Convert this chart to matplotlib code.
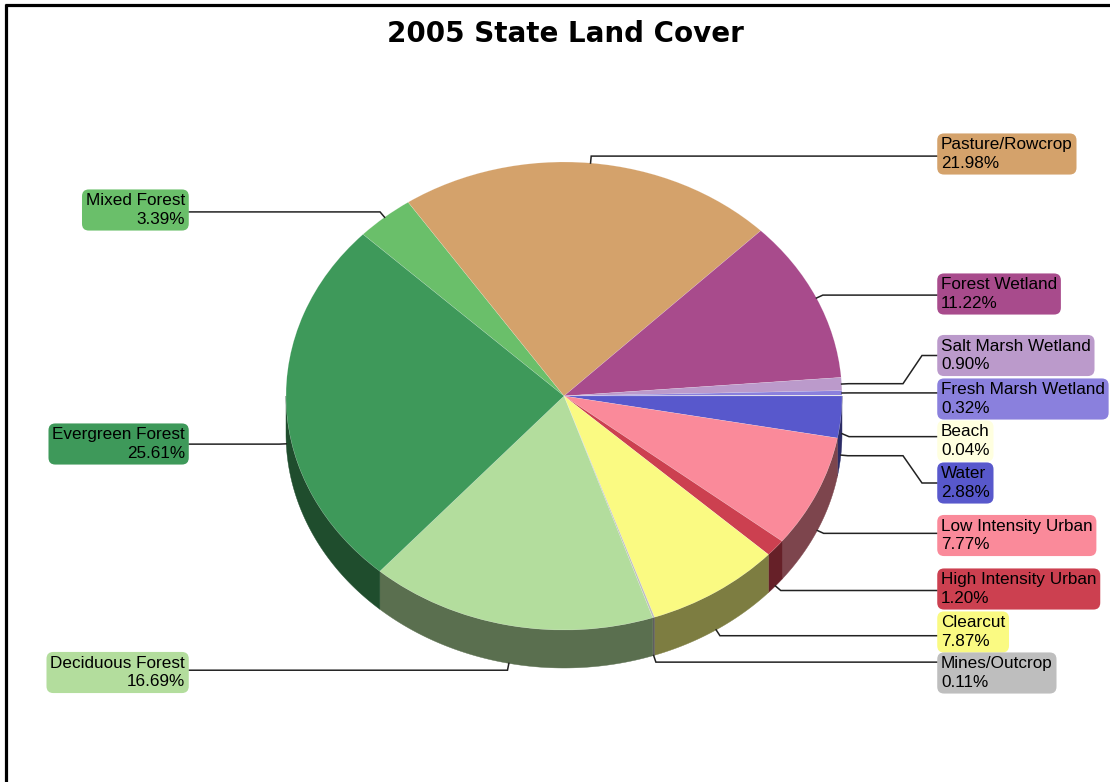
import numpy as np
import matplotlib
matplotlib.use("Agg")
import matplotlib.pyplot as plt
import matplotlib.colors as mcolors
from matplotlib.patches import Polygon

# ---------------- data ----------------
categories = ["Mixed Forest", "Pasture/Rowcrop", "Forest Wetland", "Salt Marsh Wetland",
              "Fresh Marsh Wetland", "Beach", "Water", "Low Intensity Urban",
              "High Intensity Urban", "Clearcut", "Mines/Outcrop", "Deciduous Forest",
              "Evergreen Forest"]
percents = [3.39, 21.98, 11.22, 0.90, 0.32, 0.04, 2.88, 7.77, 1.20, 7.87, 0.11, 16.69, 25.61]
colors = ["#6abf6a", "#d4a26b", "#a84b8c", "#bb9acb", "#8a80dd", "#ffffe0", "#5858cc",
          "#fa8a9a", "#cc4050", "#fafa82", "#bebebe", "#b3dd9d", "#3e995a"]
title = "2005 State Land Cover"

# ---------------- layout (pixels) ----------------
W, H = 1110, 782
CX, CY, RX, RY, DEPTH = 564, 396, 278, 234, 38
START = 136.3
label_side = ["L", "R", "R", "R", "R", "R", "R", "R", "R", "R", "R", "L", "L"]
label_cy = [210, 154, 294, 355.5, 399, 441, 483, 535.5, 589, 632, 673, 672.5, 444]
RIGHT_BOX_X, LEFT_BOX_X = 937, 189


def dx(p):
    return (p - CX) / RX


def dy(p):
    return (CY - p) / RY


fig = plt.figure(figsize=(W / 100, H / 100), dpi=100)
ax = fig.add_axes([0, 0, 1, 1])

wedges, _ = ax.pie(percents, colors=colors, startangle=START, counterclock=False,
                   radius=1, center=(0, 0),
                   wedgeprops=dict(linewidth=0.3, edgecolor=(1, 1, 1, 0.3)))
for w in wedges:
    w.set_zorder(2)

ax.set_aspect("auto")
ax.set_xlim(dx(0), dx(W))
ax.set_ylim(dy(H), dy(0))
ax.axis("off")

d = DEPTH / RY
# side walls (front half)
for w, col in zip(wedges, colors):
    t1, t2 = w.theta1, w.theta2
    dark = tuple(np.array(mcolors.to_rgb(col)) * 0.5)
    for k in range(-2, 3):
        lo = max(t1, 180 + 360 * k)
        hi = min(t2, 360 + 360 * k)
        if hi > lo:
            ts = np.radians(np.linspace(lo, hi, 80))
            top = np.column_stack([np.cos(ts), np.sin(ts)])
            bot = np.column_stack([np.cos(ts[::-1]), np.sin(ts[::-1]) - d])
            ax.add_patch(Polygon(np.vstack([top, bot]), closed=True, fc=dark,
                                 ec=dark, lw=0.3, zorder=1))

# leaders and labels
for w, name, pct, col, side, cy in zip(wedges, categories, percents, colors,
                                       label_side, label_cy):
    m = np.radians((w.theta1 + w.theta2) / 2)
    c, s = np.cos(m), np.sin(m)
    front = s < 0.005
    x0 = CX + RX * c
    y0 = CY - RY * s + (DEPTH if front else 0)
    x1, y1 = x0 + 7 * c, y0 - 7 * s
    if side == "R" and front and abs(s) < 0.05:
        y1 += 3
    if side == "R":
        if abs(cy - y1) > 12:
            pts = [(x0, y0), (x1, y1), (903, y1), (922, cy), (RIGHT_BOX_X, cy)]
        else:
            pts = [(x0, y0), (x1, y1), (RIGHT_BOX_X, y1)]
    else:
        pts = [(x0, y0), (x1, y1), (LEFT_BOX_X, y1)]
    xs = [dx(p[0]) for p in pts]
    ys = [dy(p[1]) for p in pts]
    ax.plot(xs, ys, color="#222222", lw=1.1, zorder=3, solid_joinstyle="miter")

    txt = f"{name}\n{pct:.2f}%"
    bb = dict(boxstyle="round,pad=0.22,rounding_size=0.4", fc=col, ec="none")
    if side == "R":
        ax.text(dx(RIGHT_BOX_X + 4), dy(cy), txt, ha="left", va="center",
                multialignment="left", fontsize=12.3, family="Liberation Sans",
                linespacing=1.3, bbox=bb, zorder=4)
    else:
        ax.text(dx(LEFT_BOX_X - 4), dy(cy), txt, ha="right", va="center",
                multialignment="right", fontsize=12.3, family="Liberation Sans",
                linespacing=1.3, bbox=bb, zorder=4)

ax.text(dx(565.5), dy(34), title, ha="center", va="center", fontsize=20,
        fontweight="bold", family="DejaVu Sans", zorder=4)

# frame lines
ax.plot([dx(5), dx(W)], [dy(5.5), dy(5.5)], color="black", lw=2.3,
        clip_on=False, solid_capstyle="butt")
ax.plot([dx(6), dx(6)], [dy(4.5), dy(H)], color="black", lw=2.3,
        clip_on=False, solid_capstyle="butt")

fig.savefig("out.png", dpi=100)
